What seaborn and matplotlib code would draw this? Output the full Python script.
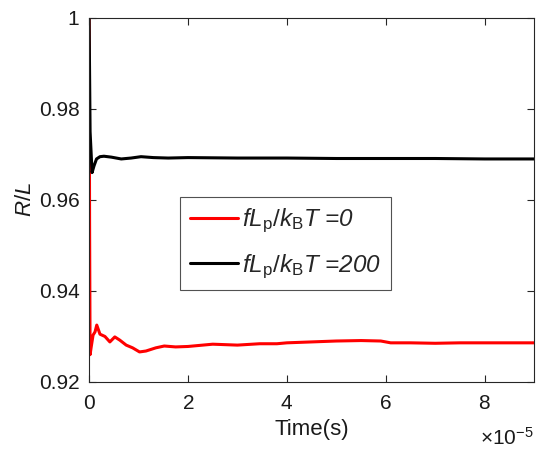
import numpy as np
import pandas as pd
import matplotlib
matplotlib.use('Agg')
import matplotlib.pyplot as plt
import seaborn as sns
from matplotlib.ticker import ScalarFormatter

# time samples in units of 1e-5 s
t_red = [0, 0.01, 0.02, 0.04, 0.08, 0.12, 0.155, 0.22, 0.32, 0.42, 0.52, 0.62, 0.75, 0.88,
         1.02, 1.15, 1.35, 1.52, 1.75, 2.0, 2.5, 3.0, 3.45, 3.8, 4.0, 4.5, 5.0, 5.5, 5.9,
         6.1, 6.5, 7.0, 7.5, 8.0, 8.5, 9.0]
r_red = [1.0, 0.955, 0.926, 0.9275, 0.9303, 0.931, 0.9325, 0.9305, 0.930, 0.9288, 0.9299,
         0.9292, 0.9281, 0.9275, 0.9266, 0.9268, 0.9275, 0.9279, 0.9277, 0.9278, 0.9283,
         0.9281, 0.9284, 0.9284, 0.9286, 0.9288, 0.929, 0.9291, 0.929, 0.9286, 0.9286,
         0.9285, 0.9286, 0.9286, 0.9286, 0.9286]

t_black = [0, 0.02, 0.06, 0.1, 0.15, 0.22, 0.3, 0.45, 0.65, 0.85, 1.05, 1.3, 1.6, 2.0,
           3.0, 4.0, 5.0, 6.0, 7.0, 8.0, 9.0]
r_black = [1.0, 0.975, 0.966, 0.9675, 0.969, 0.9695, 0.9696, 0.9694, 0.969, 0.9692,
           0.9695, 0.9693, 0.9692, 0.9693, 0.9692, 0.9692, 0.9691, 0.9691, 0.9691,
           0.969, 0.969]

labels = [r'$fL_{\rm p}/k_{\rm B}T$ =0', r'$fL_{\rm p}/k_{\rm B}T$ =200']

sns.set_style('ticks')
plt.rcParams['font.family'] = ['Liberation Sans', 'DejaVu Sans']
plt.rcParams['mathtext.fontset'] = 'custom'
plt.rcParams['mathtext.rm'] = 'Liberation Sans'
plt.rcParams['mathtext.it'] = 'Liberation Sans:italic'
plt.rcParams['mathtext.bf'] = 'Liberation Sans:bold'

df_red = pd.DataFrame({'t': np.array(t_red) * 1e-5, 'r': r_red})
df_black = pd.DataFrame({'t': np.array(t_black) * 1e-5, 'r': r_black})

fig = plt.figure(figsize=(5.5, 4.58), dpi=100)
ax = fig.add_axes([0.162, 0.166, 0.809, 0.795])

sns.lineplot(data=df_red, x='t', y='r', color='#ff0000', lw=2.2, sort=False,
             estimator=None, ax=ax, label=labels[0])
sns.lineplot(data=df_black, x='t', y='r', color='black', lw=2.2, sort=False,
             estimator=None, ax=ax, label=labels[1])

ax.set_xlim(0, 9e-5)
ax.set_ylim(0.92, 1.0)
ax.set_xticks(np.arange(0, 9e-5, 2e-5))
ax.set_yticks([0.92, 0.94, 0.96, 0.98, 1.0])
ax.set_yticklabels(['0.92', '0.94', '0.96', '0.98', '1'])

fmt = ScalarFormatter(useMathText=True)
fmt.set_powerlimits((0, 0))
ax.xaxis.set_major_formatter(fmt)
ax.xaxis.get_offset_text().set_visible(False)
fig.text(534 / 550, 1 - 438 / 458, r'$\times\mathregular{10^{-5}}$',
         ha='right', va='center', fontsize=15, color='#1a1a1a')

axcol = '#262626'
for s in ax.spines.values():
    s.set_color(axcol)
    s.set_linewidth(0.8)
ax.tick_params(direction='in', top=True, right=True, length=5, width=0.8,
               color=axcol, labelsize=15, labelcolor='#1a1a1a')
ax.tick_params(axis='x', pad=9)
ax.tick_params(axis='y', pad=7)

ax.set_xlabel('Time(s)', fontsize=16, color='#1a1a1a', labelpad=4)
ax.set_ylabel('$R/L$', fontsize=16, color='#1a1a1a', labelpad=2)

leg = ax.legend(loc='upper left', bbox_to_anchor=(180 / 550, 1 - 197 / 458),
                bbox_transform=fig.transFigure, prop={'style': 'italic', 'size': 17.5},
                frameon=True, fancybox=False, edgecolor=axcol, handlelength=2.0,
                borderpad=0.4, labelspacing=0.7, handletextpad=0.15, borderaxespad=0)
leg.get_frame().set_linewidth(0.8)

fig.savefig('out.png', dpi=100)
